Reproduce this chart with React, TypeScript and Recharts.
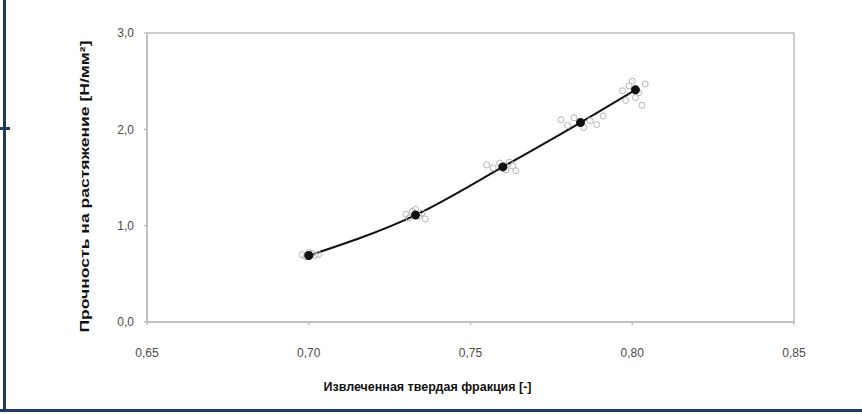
import React from "react";
import {
  ComposedChart,
  Scatter,
  Line,
  XAxis,
  YAxis,
  ReferenceArea,
  Label,
} from "recharts";

const xTicks = [0.65, 0.7, 0.75, 0.8, 0.85];
const yTicks = [0, 1, 2, 3];

// mean values (line + black markers)
const meanX = [0.7, 0.733, 0.76, 0.784, 0.801];
const meanY = [0.69, 1.11, 1.61, 2.07, 2.41];

// single measurements (grey markers)
const sampleX = [
  0.698, 0.699, 0.701, 0.702, 0.703, 0.7,
  0.73, 0.731, 0.732, 0.734, 0.735, 0.736, 0.733,
  0.755, 0.757, 0.759, 0.761, 0.763, 0.764, 0.762,
  0.778, 0.78, 0.782, 0.785, 0.787, 0.789, 0.791,
  0.798, 0.799, 0.8, 0.802, 0.803, 0.804, 0.801, 0.797,
];
const sampleY = [
  0.7, 0.68, 0.71, 0.69, 0.7, 0.72,
  1.12, 1.08, 1.15, 1.1, 1.13, 1.07, 1.17,
  1.63, 1.6, 1.65, 1.58, 1.62, 1.57, 1.66,
  2.1, 2.04, 2.12, 2.02, 2.09, 2.05, 2.14,
  2.3, 2.45, 2.5, 2.38, 2.25, 2.47, 2.33, 2.4,
];

const means = meanX.map((x, i) => ({ x, y: meanY[i] }));
const samples = sampleX.map((x, i) => ({ x, y: sampleY[i] }));

const comma = (v: number, d: number) => v.toFixed(d).replace(".", ",");

const FONT = "Liberation Sans, Arial, sans-serif";
const tickStyle = { fill: "#4a4a4a", fontSize: 12, fontFamily: FONT };

const YTitle = (props: any) => {
  const vb = props.viewBox || {};
  const cx = 85;
  const cy = vb.y + vb.height / 2 + 9;
  return (
    <text
      x={cx}
      y={cy}
      transform={`rotate(-90 ${cx} ${cy})`}
      textAnchor="middle"
      dominantBaseline="central"
      fontSize={12}
      fontWeight="bold"
      fontFamily={FONT}
      fill="#111"
      textLength={292}
      lengthAdjust="spacingAndGlyphs"
    >
      Прочность на растяжение [Н/мм²]
    </text>
  );
};

const XTitle = (props: any) => {
  const vb = props.viewBox || {};
  const cx = vb.x + vb.width / 2 - 43;
  return (
    <text
      x={cx}
      y={387}
      textAnchor="middle"
      dominantBaseline="central"
      fontSize={12}
      fontWeight="bold"
      fontFamily={FONT}
      fill="#111"
      textLength={208}
      lengthAdjust="spacingAndGlyphs"
    >
      Извлеченная твердая фракция [-]
    </text>
  );
};

const SampleDot = (props: any) => {
  const { cx, cy } = props;
  if (cx == null || cy == null) return null;
  return <circle cx={cx} cy={cy} r={3} fill="none" stroke="#b4b4b4" strokeWidth={1} />;
};

const App: React.FC = () => {
  return (
    <div style={{ position: "absolute", left: 0, top: 0, width: 862, height: 414, background: "#fff" }}>
      <div style={{ position: "absolute", left: 3, top: 0, width: 3, height: 412, background: "#1f3b5c" }} />
      <div style={{ position: "absolute", left: 0, top: 409, width: 862, height: 3, background: "#1f3b5c" }} />
      <div style={{ position: "absolute", left: 0, top: 127, width: 10, height: 3, background: "#1f3b5c" }} />
      <ComposedChart
        width={862}
        height={414}
        margin={{ top: 33, right: 68, bottom: 17, left: 107 }}
        style={{ position: "absolute", left: 0, top: 0 }}
      >
        <ReferenceArea
          x1={0.65}
          x2={0.85}
          y1={0}
          y2={3}
          fill="none"
          stroke="#bdbdbd"
          strokeWidth={1.5}
        />
        <XAxis
          dataKey="x"
          type="number"
          domain={[0.65, 0.85]}
          ticks={xTicks}
          tickFormatter={(v: number) => comma(v, 2)}
          tick={tickStyle}
          tickSize={3}
          tickMargin={23}
          stroke="#bdbdbd"
          strokeWidth={1.5}
          height={75}
          allowDataOverflow
        >
          <Label content={<XTitle />} />
        </XAxis>
        <YAxis
          dataKey="y"
          type="number"
          domain={[0, 3]}
          ticks={yTicks}
          tickFormatter={(v: number) => comma(v, 1)}
          tick={tickStyle}
          tickSize={3}
          tickMargin={10}
          stroke="#bdbdbd"
          strokeWidth={1.5}
          width={40}
          allowDataOverflow
        >
          <Label content={<YTitle />} />
        </YAxis>
        <Scatter
          data={samples}
          dataKey="y"
          shape={<SampleDot />}
          fill="none"
          stroke="#b4b4b4"
          legendType="none"
          isAnimationActive={false}
        />
        <Line
          data={means}
          dataKey="y"
          type="monotone"
          stroke="#111"
          strokeWidth={2}
          dot={{ r: 3.5, fill: "#111", stroke: "#111" }}
          isAnimationActive={false}
        />
      </ComposedChart>
    </div>
  );
};

export default App;
